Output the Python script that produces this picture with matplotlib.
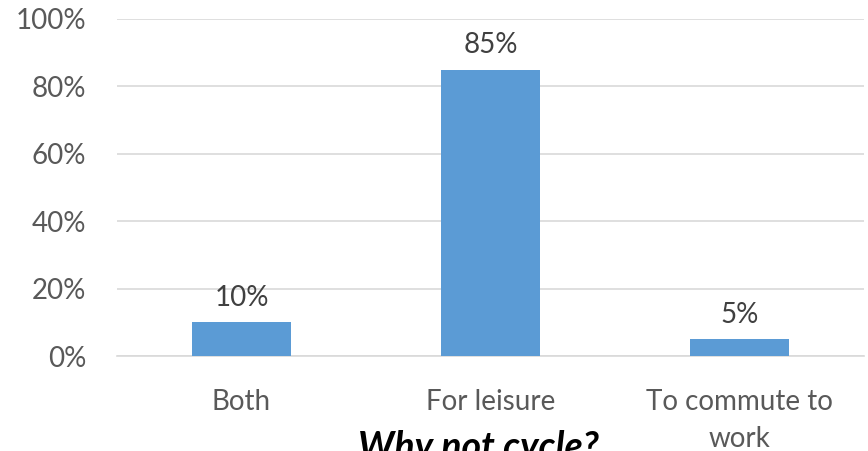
import matplotlib
matplotlib.use("Agg")
import matplotlib.pyplot as plt

categories = ["Both", "For leisure", "To commute to\nwork"]
shares = [0.10, 0.85, 0.05]
bar_labels = ["10%", "85%", "5%"]
y_ticks = [0.0, 0.2, 0.4, 0.6, 0.8, 1.0]
y_tick_labels = ["0%", "20%", "40%", "60%", "80%", "100%"]
title = "Why not cycle?"

plt.rcParams["font.family"] = ["Lato", "DejaVu Sans"]

fig = plt.figure(figsize=(8.68, 4.51), dpi=100)
ax = fig.add_axes([0.1348, 0.2106, 0.8606, 0.7473])

x = range(len(categories))
ax.bar(x, shares, width=0.4, color="#5B9BD5", zorder=3)
for i, (v, lab) in enumerate(zip(shares, bar_labels)):
    ax.annotate(lab, (i, v), xytext=(0, 8), textcoords="offset points",
                ha="center", va="bottom", fontsize=20, color="#404040")

ax.set_xlim(-0.5, len(categories) - 0.5)
ax.set_ylim(0, 1.0)
ax.set_yticks(y_ticks)
ax.set_yticklabels(y_tick_labels)
ax.set_xticks(list(x))
ax.set_xticklabels(categories, linespacing=1.55)
ax.tick_params(axis="y", length=0, pad=22, labelsize=20, labelcolor="#595959")
ax.tick_params(axis="x", length=0, pad=23.5, labelsize=20, labelcolor="#595959")
ax.grid(axis="y", color="#d9d9d9", linewidth=1.2, zorder=0)
for s in ["top", "right", "left"]:
    ax.spines[s].set_visible(False)
ax.spines["bottom"].set_color("#d9d9d9")
ax.spines["bottom"].set_linewidth(1.2)

fig.text(0.551, 0.047, title, ha="center", va="top", fontsize=27,
         fontweight="bold", fontstyle="italic", color="black")

fig.savefig("out.png", dpi=100)
